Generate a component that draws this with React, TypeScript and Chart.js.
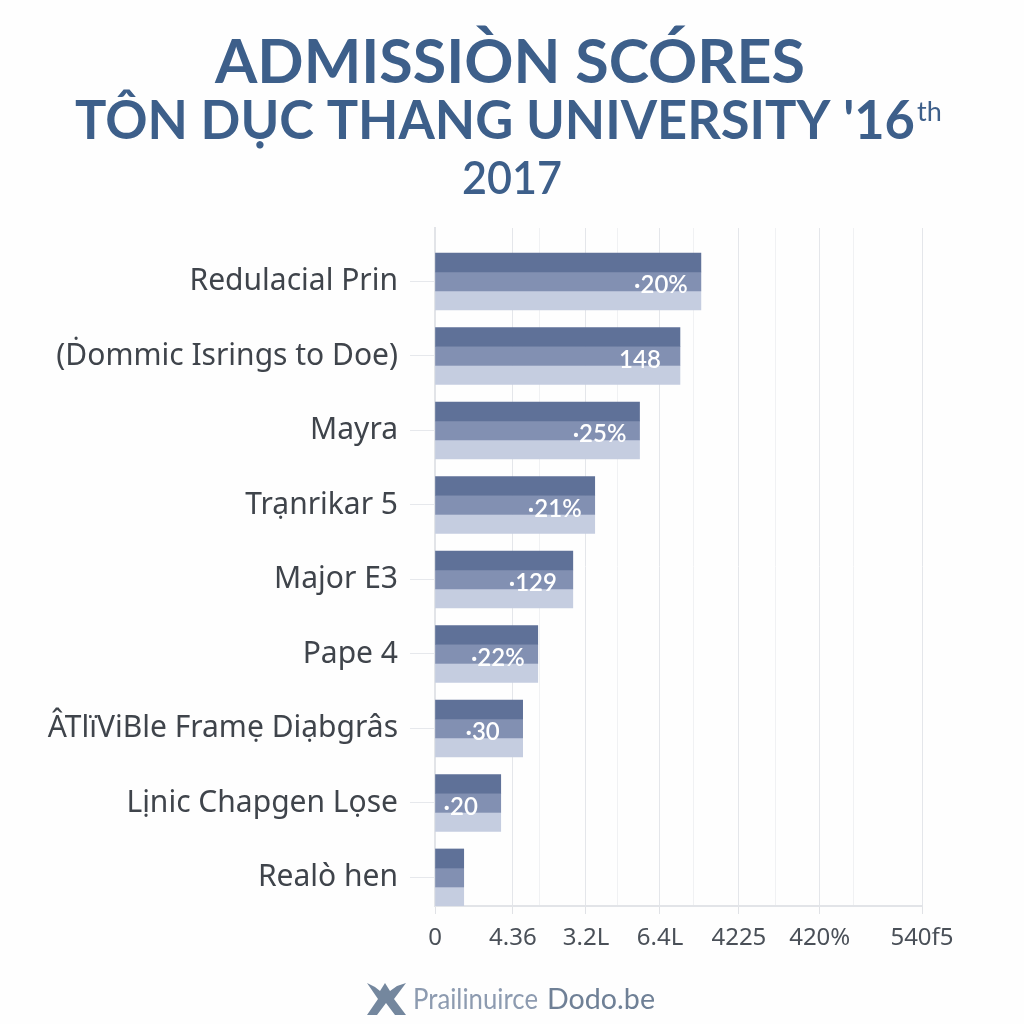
import React, { useEffect, useRef } from "react";
import { Chart, registerables } from "chart.js";

Chart.register(...registerables);

const categories = [
  "Redulacial Prin",
  "(Ḋommic Isrings to Doe)",
  "Mayra",
  "Trạnrikar 5",
  "Major E3",
  "Pape 4",
  "ÂTlïViBle Framẹ Diạbgrâs",
  "Lịnic Chapgen Lọse",
  "Realò hen",
];
const scoreA = [54.6, 50.3, 42.0, 32.8, 28.3, 21.1, 18.0, 13.5, 5.9];
const scoreB = [54.6, 50.3, 42.0, 32.8, 28.3, 21.1, 18.0, 13.5, 5.9];
const scoreC = [54.6, 50.3, 42.0, 32.8, 28.3, 21.1, 18.0, 13.5, 5.9];
const barLabels = ["·20%", "148", "·25%", "·21%", "·129", "·22%", "·30", "·20", ""];
const xTickValues = [0, 16, 21.5, 31, 37.4, 46.2, 53, 62.4, 70, 79, 86, 100];
const xTickLabels = ["0", "4.36", "", "3.2L", "", "6.4L", "", "4225", "", "420%", "", "540f5"];
const titleLines = ["ADMISSIÒN SCÓRES", "TÔN DỤC THANG UNIVERSITY '16", "2017"];
const titleSuffix = "th";
const footerLight = "Prailinuirce";
const footerDark = "Dodo.be";

const pageOverlay = {
  id: "pageOverlay",
  afterDatasetsDraw(chart: any) {
    const { ctx } = chart;
    ctx.save();
    // value labels on the middle stripe
    const meta = chart.getDatasetMeta(1);
    ctx.fillStyle = "#ffffff";
    ctx.font = "600 24px Lato";
    ctx.textAlign = "center";
    ctx.textBaseline = "middle";
    meta.data.forEach((bar: any, i: number) => {
      if (barLabels[i]) ctx.fillText(barLabels[i], bar.x - 40, bar.y + 4);
    });

    // title
    ctx.fillStyle = "#3d5f8a";
    ctx.textBaseline = "alphabetic";
    ctx.textAlign = "center";
    ctx.font = "700 61px Lato";
    ctx.fillText(titleLines[0], 510, 83, 590);
    ctx.font = "700 53px Lato";
    ctx.textAlign = "left";
    ctx.fillText(titleLines[1], 75, 139, 840);
    ctx.font = "400 27px Lato";
    ctx.fillText(titleSuffix, 917, 121);
    ctx.textAlign = "center";
    ctx.font = "600 47px Lato";
    ctx.fillText(titleLines[2], 512, 194, 100);

    // footer
    ctx.textAlign = "left";
    ctx.font = "400 29px Lato";
    ctx.fillStyle = "#8d9bb0";
    ctx.fillText(footerLight, 413, 1009, 125);
    ctx.fillStyle = "#6f8096";
    ctx.fillText(footerDark, 547, 1009, 108);

    // footer mark
    ctx.fillStyle = "#74879e";
    ctx.beginPath();
    ctx.moveTo(367, 983);
    ctx.lineTo(375, 987);
    ctx.lineTo(380, 991);
    ctx.lineTo(385, 983);
    ctx.lineTo(390, 991);
    ctx.lineTo(397, 986);
    ctx.lineTo(406, 983);
    ctx.lineTo(394, 999);
    ctx.lineTo(406, 1015);
    ctx.lineTo(395, 1015);
    ctx.lineTo(386, 1003);
    ctx.lineTo(377, 1015);
    ctx.lineTo(367, 1015);
    ctx.lineTo(378, 999);
    ctx.closePath();
    ctx.fill();
    ctx.restore();
  },
};

function makeDataset(values: number[], color: string) {
  return {
    data: values.map((x, y) => ({ x, y })),
    backgroundColor: color,
    borderWidth: 0,
    barThickness: 19,
  };
}

export default function App() {
  const ref = useRef<HTMLCanvasElement>(null);
  useEffect(() => {
    const chart = new Chart(ref.current!, {
      type: "bar",
      data: {
        datasets: [
          makeDataset(scoreA, "#5f7198"),
          makeDataset(scoreB, "#8290b2"),
          makeDataset(scoreC, "#c5cde0"),
        ],
      },
      options: {
        indexAxis: "y",
        animation: false,
        responsive: false,
        devicePixelRatio: 1,
        layout: { padding: { top: 228, left: 0, right: 102, bottom: 0 } },
        plugins: { legend: { display: false }, tooltip: { enabled: false }, title: { display: false } },
        scales: {
          x: {
            type: "linear",
            min: 0,
            max: 100,
            afterBuildTicks(axis: any) {
              axis.ticks = xTickValues.map((value) => ({ value }));
            },
            afterFit(axis: any) {
              axis.height = 118;
            },
            ticks: {
              autoSkip: false,
              maxRotation: 0,
              color: "#4a5058",
              padding: 10,
              font: { family: "'Noto Sans'", size: 24 },
              callback: (_v: any, i: number) => xTickLabels[i],
            },
            grid: {
              color: (c: any) => (xTickLabels[c.index] ? "#e4e6ea" : "#f0f1f3"),
              tickColor: (c: any) => (xTickLabels[c.index] ? "#e0e2e6" : "rgba(0,0,0,0)"),
              tickLength: 8,
            },
            border: { color: "#e2e4e8", width: 2 },
          },
          y: {
            type: "linear",
            offset: false,
            reverse: true,
            min: -0.718,
            max: 8.383,
            afterBuildTicks(axis: any) {
              axis.ticks = categories.map((_, value) => ({ value }));
            },
            afterFit(axis: any) {
              axis.width = 435;
            },
            ticks: {
              autoSkip: false,
              color: "#3f444b",
              padding: 12,
              font: { family: "'Noto Sans'", size: 30 },
              callback: (_v: any, i: number) => categories[i],
            },
            grid: { offset: false, drawOnChartArea: false, tickLength: 25, tickColor: "#e6e8ec" },
            border: { color: "#e2e4e8", width: 2 },
          },
        },
      },
      plugins: [pageOverlay],
    } as any);
    return () => chart.destroy();
  }, []);
  return (
    <canvas
      ref={ref}
      width={1024}
      height={1024}
      style={{ position: "fixed", left: 0, top: 0, width: 1024, height: 1024, background: "#fefefe" }}
    />
  );
}
